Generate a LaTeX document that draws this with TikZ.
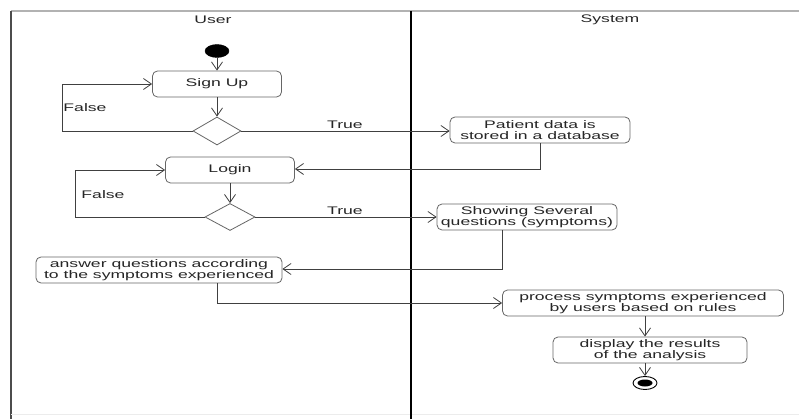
\documentclass[tikz,border=0pt]{standalone}
\usepackage{fontspec}
\setmainfont[FakeStretch=1.6]{Liberation Sans}
\usetikzlibrary{arrows.meta,shapes.geometric}
\begin{document}
\begin{tikzpicture}[x=1pt,y=-1pt,
  act/.style={draw=black!60, line width=0.8pt, rounded corners=5pt, minimum height=26pt, inner sep=1pt, align=center, text=black!85, font=\fontsize{11}{11.5}\selectfont},
  dec/.style={draw=black!60, line width=0.8pt, diamond, inner sep=0pt},
  flow/.style={draw=black!75, line width=0.8pt, -{Straight Barb[length=8pt,width=11pt]}},
  lbl/.style={text=black!85, font=\fontsize{11}{12}\selectfont, inner sep=0pt},
]
\useasboundingbox (0,0) rectangle (799,419);
\fill[white] (0,0) rectangle (799,419);
% frame
\draw[gray!60, line width=1.8pt] (11,11) -- (799,11);
\draw[black!70, line width=1.5pt] (11,11) -- (11,419);
\draw[gray!15, line width=1pt] (11,414) -- (799,414);
\draw[black, line width=2.5pt] (411,11) -- (411,419);
\node[lbl] (user) at (213,20) {User};
\node[lbl] (system) at (610,20) {System};

% nodes
\node[ellipse, fill=black, draw=black, minimum width=24pt, minimum height=13pt, inner sep=0pt] (start) at (217,51) {};
\node[act, minimum width=129pt] (signup) at (217,84) {Sign Up};
\node[dec, minimum width=48pt, minimum height=28pt] (d1) at (217,131) {};
\node[act, minimum width=180pt] (patient) at (540,130) {Patient data is\\stored in a database};
\node[act, minimum width=129pt] (login) at (230,170) {Login};
\node[dec, minimum width=50pt, minimum height=27pt] (d2) at (230,217) {};
\node[act, minimum width=180pt] (showing) at (527,217) {Showing Several\\questions (symptoms)};
\node[act, minimum width=246pt] (answer) at (159,270) {answer questions according\\to the symptoms experienced};
\node[act, minimum width=281pt] (process) at (643,303) {process symptoms experienced\\by users based on rules};
\node[act, minimum width=194pt] (display) at (650,350) {display the results\\of the analysis};
\node[ellipse, draw=black, line width=0.9pt, minimum width=24pt, minimum height=13pt, inner sep=0pt] (end) at (645,383) {};
\node[ellipse, fill=black, minimum width=15pt, minimum height=7pt, inner sep=0pt] (endin) at (end.center) {};

\coordinate (f1) at (62,131);
\coordinate (f2) at (75,217);

% connectors
\draw[flow] (start.south) -- (signup.north);
\draw[flow] (signup.south) -- (d1.north);
\draw[flow] (d1.west) -- (f1) |- (signup.west);
\node[lbl] (false1) at (85,108) {False};
\draw[flow] (d1.east) -- (d1.east -| patient.west);
\node[lbl] (true1) at (345,125) {True};
\draw[flow] (patient.south) |- ([yshift=1pt]login.east);
\draw[flow] (login.south) -- (d2.north);
\draw[flow] (d2.west) -- (f2) |- (login.west);
\node[lbl] (false2) at (103,195) {False};
\draw[flow] (d2.east) -- (d2.east -| showing.west);
\node[lbl] (true2) at (345,211) {True};
\draw[flow] ([xshift=-25pt]showing.south) |- ([yshift=1pt]answer.east);
\draw[flow] ([xshift=58pt]answer.south) |- (process.west);
\draw[flow] ([xshift=2pt]process.south) -- ([xshift=2pt]process.south |- display.north);
\draw[flow] (end.north |- display.south) -- (end.north);
\end{tikzpicture}
\end{document}
